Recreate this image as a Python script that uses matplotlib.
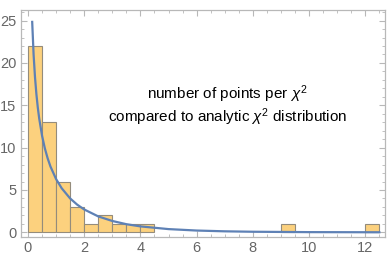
import matplotlib.pyplot as plt
from matplotlib.ticker import MultipleLocator

plt.rcParams['font.family'] = ['Liberation Sans', 'DejaVu Sans']
plt.rcParams['mathtext.fontset'] = 'custom'
plt.rcParams['mathtext.rm'] = 'Liberation Sans'
plt.rcParams['mathtext.it'] = 'Liberation Sans:italic'

# histogram of chi^2 per point (bin width 0.5)
bin_left = [0, 0.5, 1.0, 1.5, 2.0, 2.5, 3.0, 3.5, 4.0, 9.0, 12.0]
counts = [22, 13, 6, 3, 1, 2, 1, 1, 1, 1, 1]
bin_w = 0.5

# analytic curve
curve_x = [0.15, 0.2, 0.25, 0.3, 0.35, 0.4, 0.5, 0.6, 0.7, 0.8, 1.0, 1.2, 1.5,
           1.75, 2.0, 2.5, 3.0, 3.5, 4.0, 5.0, 6.0, 7.0, 8.0, 10.0, 12.5]
curve_y = [24.85, 20.99, 18.31, 16.30, 14.72, 13.43, 11.42, 9.92, 8.74, 7.77,
           6.29, 5.20, 4.00, 3.27, 2.70, 1.88, 1.34, 0.96, 0.70, 0.38, 0.21,
           0.118, 0.067, 0.022, 0.006]

fig = plt.figure(figsize=(3.9, 2.69), dpi=100)
ax = fig.add_axes([0.053, 0.12, 0.934, 0.843])

ax.bar(bin_left, counts, width=bin_w, align='edge', color='#FCD17E',
       edgecolor='#948C7C', linewidth=0.8, zorder=2)
ax.plot(curve_x, curve_y, color='#5E81B5', lw=1.6, zorder=3)

ax.text(7.1, 15.76, r'number of points per $\chi^2$', ha='center', va='baseline', fontsize=11)
ax.text(7.1, 12.98, r'compared to analytic $\chi^2$ distribution', ha='center', va='baseline', fontsize=11)

ax.set_xlim(-0.26, 12.7)
ax.set_ylim(-0.52, 26.26)
ax.xaxis.set_major_locator(MultipleLocator(2))
ax.xaxis.set_minor_locator(MultipleLocator(0.5))
ax.yaxis.set_major_locator(MultipleLocator(5))
ax.yaxis.set_minor_locator(MultipleLocator(1))

for s in ax.spines.values():
    s.set_color('#B8B8B8')
    s.set_linewidth(0.9)
ax.tick_params(which='both', direction='in', top=True, right=True, color='#B8B8B8')
ax.tick_params(which='major', length=4, width=0.8, labelsize=10.5, labelcolor='#666666', pad=3)
ax.tick_params(which='minor', length=2, width=0.6)

fig.savefig('out.png', dpi=100)
